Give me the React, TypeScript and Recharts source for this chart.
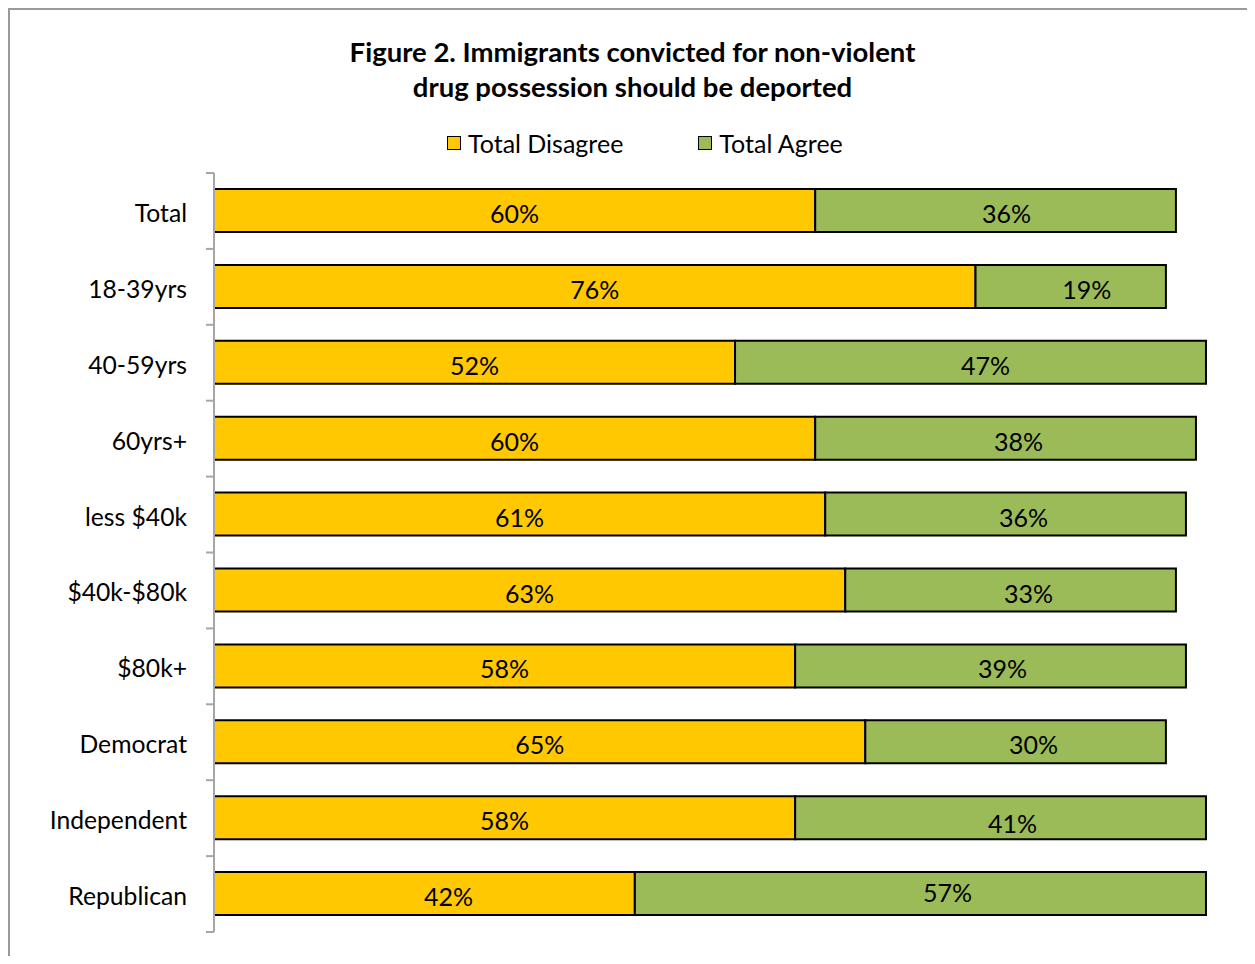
import React from "react";
import { BarChart, Bar, XAxis, YAxis, LabelList } from "recharts";

const categories = ["Total", "18-39yrs", "40-59yrs", "60yrs+", "less $40k", "$40k-$80k", "$80k+", "Democrat", "Independent", "Republican"];
const disagree = [60, 76, 52, 60, 61, 63, 58, 65, 58, 42];
const agree = [36, 19, 47, 38, 36, 33, 39, 30, 41, 57];
const seriesNames = ["Total Disagree", "Total Agree"];
const seriesColors = ["#FFC800", "#9BBB59"];
const titleLines = ["Figure 2. Immigrants convicted for non-violent", "drug possession should be deported"];

// manual label nudges (px) seen in the original, kept apart from the data
const disagreeLabelDx = [0, 0, 0, 0, 0, 0, 0, 0, 0, 24];
const agreeLabelDx = [11, 16, 15, 13, 18, 18, 12, 18, 12, 27];
const agreeLabelDy = [0, 0, 0, 0, 0, 0, 0, 0, 3, -4];

const data = categories.map((c, i) => ({ name: c, disagree: disagree[i], agree: agree[i] }));

const FONT = "Lato, 'Open Sans', sans-serif";
const CHART_W = 1245;
const CHART_H = 938;
const MARGIN = { top: 163, right: 39, bottom: 16, left: 20 };
const Y_W = 184;
const PLOT_H = CHART_H - MARGIN.top - MARGIN.bottom;
const HALF_BAND = PLOT_H / categories.length / 2;

const CatTick = (props: any) => {
  const { x, y, payload, index } = props;
  return (
    <g>
      <line x1={x - 8} x2={x} y1={y - HALF_BAND} y2={y - HALF_BAND} stroke="#a6a6a6" strokeWidth={2} />
      {index === categories.length - 1 && (
        <line x1={x - 8} x2={x} y1={y + HALF_BAND} y2={y + HALF_BAND} stroke="#a6a6a6" strokeWidth={2} />
      )}
      <text x={x - 27} y={y + 1.5} textAnchor="end" dominantBaseline="central" fontSize={24.7} fill="#000" fontFamily={FONT}>
        {payload.value}
      </text>
    </g>
  );
};

const makeLabel = (dxs: number[], dys: number[]) => (props: any) => {
  const { x, y, width, height, value, index } = props;
  return (
    <text
      x={x + width / 2 + (dxs[index] || 0)}
      y={y + height / 2 + 2.5 + (dys[index] || 0)}
      textAnchor="middle"
      dominantBaseline="central"
      fontSize={25}
      fill="#000"
      fontFamily={FONT}
    >
      {`${value}%`}
    </text>
  );
};

const disagreeLabel = makeLabel(disagreeLabelDx, []);
const agreeLabel = makeLabel(agreeLabelDx, agreeLabelDy);

export default function App() {
  return (
    <div
      style={{
        position: "relative",
        width: 1247,
        height: 948,
        boxSizing: "border-box",
        borderTop: "2px solid #9a9a9a",
        borderLeft: "2px solid #9a9a9a",
        fontFamily: FONT,
        overflow: "hidden",
      }}
    >
      <div
        style={{
          position: "absolute",
          top: 24,
          left: 0,
          width: 1245,
          textAlign: "center",
          paddingLeft: 0,
          boxSizing: "border-box",
          fontWeight: 700,
          fontSize: 27.5,
          lineHeight: "35px",
          color: "#000",
        }}
      >
        {titleLines.map((t) => (
          <div key={t}>{t}</div>
        ))}
      </div>
      <div
        style={{
          position: "absolute",
          top: 118,
          left: 437,
          display: "flex",
          alignItems: "center",
          fontSize: 25,
          color: "#000",
        }}
      >
        {seriesNames.map((n, i) => (
          <div key={n} style={{ display: "flex", alignItems: "center", marginRight: i === 0 ? 75 : 0 }}>
            <div style={{ width: 12, height: 12, background: seriesColors[i], border: "1.5px solid #000", marginRight: 7 }} />
            <span>{n}</span>
          </div>
        ))}
      </div>
      <BarChart
        width={CHART_W}
        height={CHART_H}
        data={data}
        layout="vertical"
        margin={MARGIN}
        barSize={43}
        style={{ position: "absolute", top: 0, left: 0 }}
      >
        <XAxis type="number" domain={[0, 100]} hide />
        <YAxis
          type="category"
          dataKey="name"
          width={Y_W}
          axisLine={{ stroke: "#a6a6a6", strokeWidth: 2 }}
          tickLine={false}
          tickSize={0}
          tickMargin={0}
          tick={<CatTick />}
          interval={0}
        />
        <Bar dataKey="disagree" name={seriesNames[0]} stackId="a" fill={seriesColors[0]} stroke="#000" strokeWidth={2} isAnimationActive={false}>
          <LabelList dataKey="disagree" content={disagreeLabel} />
        </Bar>
        <Bar dataKey="agree" name={seriesNames[1]} stackId="a" fill={seriesColors[1]} stroke="#000" strokeWidth={2} isAnimationActive={false}>
          <LabelList dataKey="agree" content={agreeLabel} />
        </Bar>
      </BarChart>
    </div>
  );
}
